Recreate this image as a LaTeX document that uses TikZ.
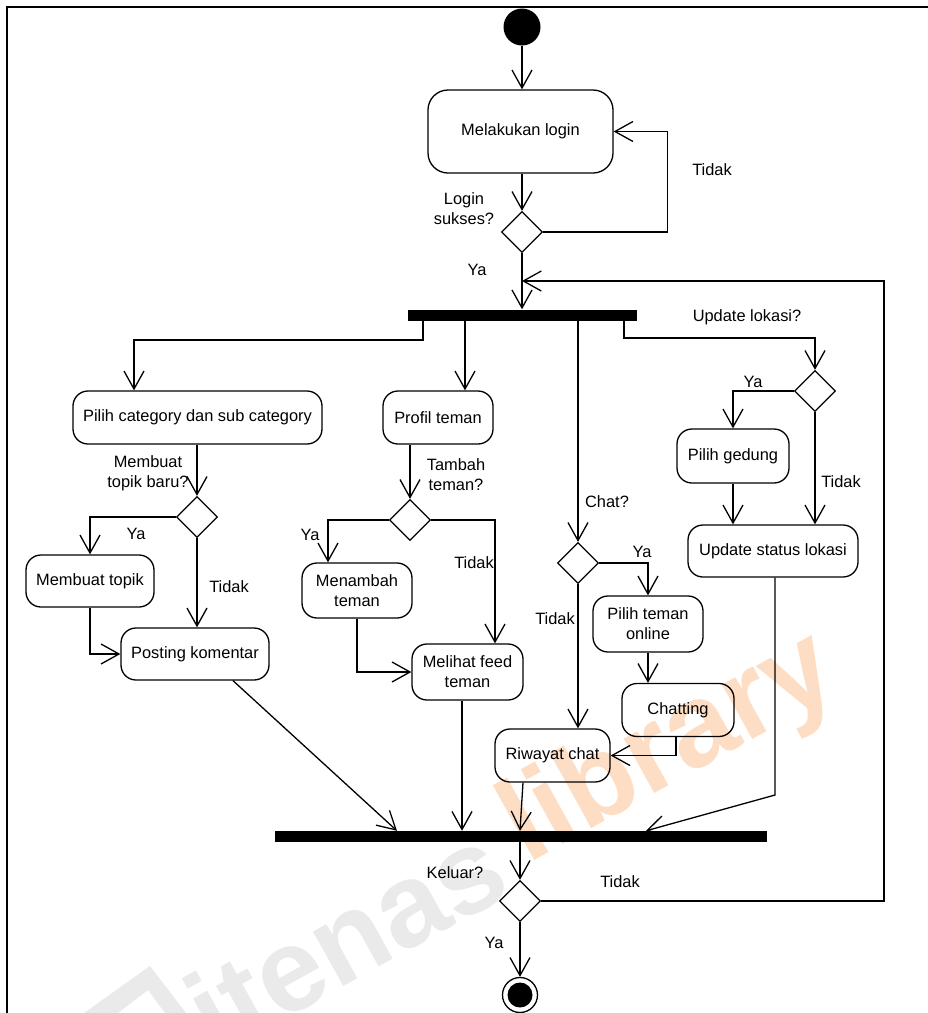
\documentclass[tikz,border=0pt]{standalone}
\usepackage{fontspec}
\setmainfont{Liberation Sans}
\usetikzlibrary{arrows.meta,shapes.geometric,calc}
\newcommand\dfont{\fontsize{16.4}{20}\selectfont}
\definecolor{wmgray}{RGB}{234,234,234}
\definecolor{wmorange}{RGB}{253,222,196}
\begin{document}
\begin{tikzpicture}[x=1pt,y=-1pt,
  box/.style={draw, rounded corners=15pt, line width=1.3pt, align=center, inner sep=0pt, font=\dfont},
  dec/.style={diamond, draw, fill=white, minimum width=41pt, minimum height=41pt, inner sep=0pt, line width=1.3pt},
  bar/.style={fill=black, draw=none, inner sep=0pt},
  arr/.style={-{Straight Barb[length=18pt,width=20pt,line width=1.3pt]}, line width=1.3pt},
  lbl/.style={font=\dfont, inner sep=0pt, align=center},
  wm/.style={font=\bfseries\fontsize{118}{118}\selectfont, inner sep=0pt, anchor=center}]
\useasboundingbox (0,0) rectangle (928,1013);
\fill[white] (0,0) rectangle (928,1013);
% watermark
\fill[wmgray] (84,1013) -- (150,966) -- (186,1013) -- (165,1013) -- (148,990) -- (118,1013) -- cycle;
\node[wm, text=wmgray, rotate=29] (wm1) at (345,938) {itenas};
\node[wm, text=wmorange, rotate=29] (wm2) at (670,750) {library};
% frame
\draw[line width=1.5pt] (7,1013) -- (7,7) -- (928,7);
% initial / final
\node[circle, fill=black, minimum size=37pt, inner sep=0pt] (start) at (522,27) {};
\node[circle, draw, line width=1.3pt, minimum size=35pt, inner sep=0pt] (end) at (520,995) {};
\fill (end.center) circle (12.5pt);
% activities
\node[box, rounded corners=20pt, minimum width=185pt, minimum height=83pt] (login) at (520.5,131.5) {Melakukan login};
\node[box, minimum width=249pt, minimum height=53pt] (catbox) at (197.5,417.5) {Pilih category dan sub category};
\node[box, minimum width=110pt, minimum height=53pt] (profil) at (438,417.5) {Profil teman};
\node[box, minimum width=128pt, minimum height=52pt] (mtopik) at (90,581) {Membuat topik};
\node[box, minimum width=148pt, minimum height=52pt] (posting) at (195,654) {Posting komentar};
\node[box, minimum width=110pt, minimum height=55pt] (menambah) at (357,590.5) {Menambah\\teman};
\node[box, minimum width=111pt, minimum height=56pt] (melihat) at (467.5,672) {Melihat feed\\teman};
\node[box, minimum width=110pt, minimum height=56pt] (pteman) at (648,624) {Pilih teman\\online};
\node[box, minimum width=112pt, minimum height=53pt] (chatting) at (678,710) {Chatting};
\node[box, minimum width=115pt, minimum height=53pt] (riwayat) at (552.5,755.5) {Riwayat chat};
\node[box, minimum width=112pt, minimum height=54pt] (gedung) at (733,456) {Pilih gedung};
\node[box, minimum width=170pt, minimum height=52pt] (ustatus) at (773,551) {Update status lokasi};
% decisions
\node[dec] (d1) at (522,232) {};
\node[dec] (d2) at (197,517) {};
\node[dec] (d3) at (410,520) {};
\node[dec] (d4) at (578,563) {};
\node[dec] (d5) at (815,391) {};
\node[dec] (d6) at (520,901) {};
% bars
\node[bar, minimum width=229pt, minimum height=11pt] (fork) at (522.5,315) {};
\node[bar, minimum width=492pt, minimum height=11pt] (join) at (521,836.5) {};
% helper coordinates
\coordinate (b1) at (423,340);
\coordinate (b1l) at (134,340);
\coordinate (b2) at (465,340);
\coordinate (b4) at (624,338);
\coordinate (m1) at (328,0);
\coordinate (m2) at (495,0);
\coordinate (j1a) at (233,0);
\coordinate (j1b) at (397,0);
\coordinate (j2) at (462,0);
\coordinate (j3a) at (523,0);
\coordinate (j3b) at (520,0);
\coordinate (j4) at (646,0);
\coordinate (u1) at (775,795);
\coordinate (c2) at (676,0);
\coordinate (rc) at (884,281);
\coordinate (back) at (522,281);
% connectors
\draw[arr] (start.south) -- (start.south |- login.north);
\draw[arr] (login.south -| d1.north) -- (d1.north);
\draw[arr] (d1.east) -- ++(124,0) |- (login.east);
\draw[arr] (d1.south) -- (d1.south |- fork.north);
\draw[arr] (d6.east) -| (rc) -- (back);
\draw[arr] (fork.south -| b1) -- (b1) -- (b1l) -- (b1l |- catbox.north);
\draw[arr] (fork.south -| b2) -- (b2 |- profil.north);
\draw[arr] (fork.south -| d4.north) -- (d4.north);
\draw[arr] (fork.south -| b4) -- (b4) -| (d5.north);
\draw[arr] (catbox.south -| d2.north) -- (d2.north);
\draw[arr] (d2.west) -| (mtopik.north);
\draw[arr] (d2.south) -- (d2.south |- posting.north);
\draw[arr] (mtopik.south) |- (posting.west);
\draw[arr] (profil.south -| d3.north) -- (d3.north);
\draw[arr] (d3.west) -| (menambah.north -| m1);
\draw[arr] (d3.east) -| (melihat.north -| m2);
\draw[arr] (menambah.south) |- (melihat.west);
\draw[arr] (melihat.south -| j2) -- (join.north -| j2);
\draw[arr] (posting.south -| j1a) -- (join.north -| j1b);
\draw[arr] (d4.east) -| (pteman.north);
\draw[arr] (d4.south) -- (d4.south |- riwayat.north);
\draw[arr] (pteman.south) -- (pteman.south |- chatting.north);
\draw[arr] (chatting.south -| c2) |- (riwayat.east);
\draw[arr] (riwayat.south -| j3a) -- (join.north -| j3b);
\draw[arr] (d5.west) -| (gedung.north);
\draw[arr] (gedung.south) -- (gedung.south |- ustatus.north);
\draw[arr] (d5.south) -- (d5.south |- ustatus.north);
\draw[arr] (ustatus.south -| u1) -- (u1) -- (join.north -| j4);
\draw[arr] (join.south -| d6.north) -- (d6.north);
\draw[arr] (d6.south) -- (end.north);
% labels
\node[lbl] (l1) at (712,170) {Tidak};
\node[lbl] (l2) at (464,209) {Login\\sukses?};
\node[lbl] (l3) at (477,270) {Ya};
\node[lbl] (l4) at (747,317) {Update lokasi?};
\node[lbl] (l5) at (148,473) {Membuat\\topik baru?};
\node[lbl] (l6) at (136,534) {Ya};
\node[lbl] (l7) at (229,587) {Tidak};
\node[lbl] (l8) at (456,475) {Tambah\\teman?};
\node[lbl] (l9) at (310,535) {Ya};
\node[lbl] (l10) at (474,563) {Tidak};
\node[lbl] (l11) at (607,502) {Chat?};
\node[lbl] (l12) at (642,552) {Ya};
\node[lbl] (l13) at (555,619) {Tidak};
\node[lbl] (l14) at (753,382) {Ya};
\node[lbl] (l15) at (841,482) {Tidak};
\node[lbl] (l16) at (455,873) {Keluar?};
\node[lbl] (l17) at (620,882) {Tidak};
\node[lbl] (l18) at (494,943) {Ya};
\end{tikzpicture}
\end{document}
